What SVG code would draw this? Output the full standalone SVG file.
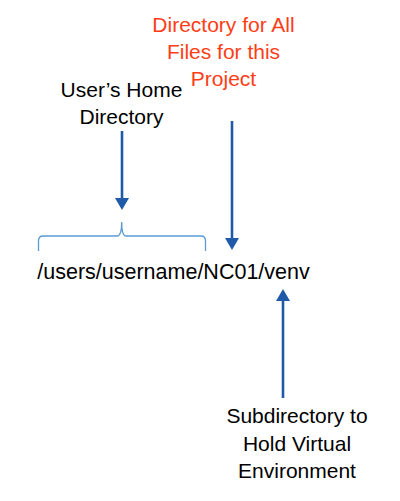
<svg xmlns="http://www.w3.org/2000/svg" width="400" height="501" viewBox="0 0 400 501">
<defs>
<style>
text{font-family:"Liberation Sans",Arial,sans-serif;font-size:21px;text-anchor:middle}
.blk{fill:#000}
.red{fill:#FF3D17}
.arr{stroke:#1F5AA8;stroke-width:2.6;fill:none}
.brace{stroke:#5B9BD5;stroke-width:1.3;fill:none}
</style>
<marker id="ah" markerWidth="12" markerHeight="14" refX="0" refY="7" orient="auto" markerUnits="userSpaceOnUse" viewBox="0 0 12 14">
<path d="M0,0 L12,7 L0,14 Z" fill="#1F5AA8"/>
</marker>
</defs>
<rect width="400" height="501" fill="#fff"/>
<g id="project-label">
<text class="red" x="223.5" y="32">Directory for All</text>
<text class="red" x="223.5" y="59">Files for this</text>
<text class="red" x="223.5" y="86">Project</text>
</g>
<g id="home-label">
<text class="blk" x="121.5" y="97">User’s Home</text>
<text class="blk" x="121.5" y="124">Directory</text>
</g>
<g id="path-text">
<text class="blk" x="173.5" y="279" style="font-size:21.5px">/users/username/NC01/venv</text>
</g>
<g id="venv-label">
<text class="blk" x="297" y="423">Subdirectory to</text>
<text class="blk" x="297" y="451">Hold Virtual</text>
<text class="blk" x="297" y="478">Environment</text>
</g>
<g id="brace">
<path class="brace" d="M38.5,251 L38.5,241 Q38.5,236 43,236 L117,236 Q121.7,236 121.7,222 Q121.7,236 126,236 L201,236 Q205.5,236 205.5,241 L205.5,251"/>
</g>
<g id="connectors">
<line class="arr" x1="122" y1="131" x2="122" y2="198" marker-end="url(#ah)"/>
<line class="arr" x1="232" y1="121" x2="232" y2="238" marker-end="url(#ah)"/>
<line class="arr" x1="283" y1="398" x2="283" y2="301" marker-end="url(#ah)"/>
</g>
</svg>
